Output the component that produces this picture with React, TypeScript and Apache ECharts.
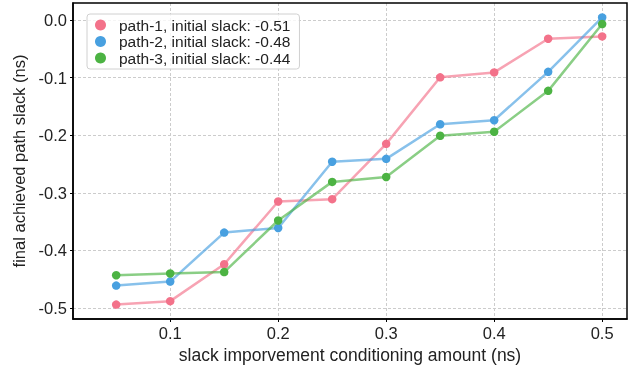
import React, { useEffect, useRef } from "react";
import * as echarts from "echarts";

const xValues = [0.05, 0.1, 0.15, 0.2, 0.25, 0.3, 0.35, 0.4, 0.45, 0.5];
const path1 = [-0.494, -0.488, -0.424, -0.315, -0.311, -0.215, -0.0995, -0.091, -0.0325, -0.0285];
const path2 = [-0.461, -0.454, -0.369, -0.361, -0.246, -0.241, -0.181, -0.174, -0.090, 0.0045];
const path3 = [-0.443, -0.440, -0.4375, -0.348, -0.281, -0.2725, -0.201, -0.194, -0.123, -0.007];
const seriesNames = [
  "path-1, initial slack: -0.51",
  "path-2, initial slack: -0.48",
  "path-3, initial slack: -0.44",
];
const colors = ["#f3728a", "#48a0e0", "#4cb343"];
const xTicks = [0.1, 0.2, 0.3, 0.4, 0.5];
const yTicks = [-0.5, -0.4, -0.3, -0.2, -0.1, 0.0];

export default function App() {
  const ref = useRef<HTMLDivElement>(null);
  useEffect(() => {
    if (!ref.current) return;
    const chart = echarts.init(ref.current, null, { renderer: "svg" });
    const font = "'Liberation Sans', Arial, sans-serif";
    const all = [path1, path2, path3];
    chart.setOption({
      animation: false,
      textStyle: { fontFamily: font },
      grid: {
        left: 73,
        right: 14,
        top: 3,
        bottom: 46,
        containLabel: false,
        outerBoundsMode: "none",
      },
      legend: {
        orient: "vertical",
        left: 87,
        top: 14,
        icon: "circle",
        itemWidth: 11,
        itemHeight: 11,
        itemGap: 0.5,
        padding: [3, 9, 3, 8],
        borderColor: "#d0d0d0",
        borderWidth: 1,
        borderRadius: 3,
        backgroundColor: "rgba(255,255,255,0.8)",
        textStyle: {
          fontSize: 15.5,
          lineHeight: 16,
          color: "#222",
          fontFamily: font,
          padding: [0, 0, 0, 8],
        },
        data: seriesNames,
      },
      xAxis: {
        type: "value",
        min: 0.01,
        max: 0.523,
        name: "slack imporvement conditioning amount (ns)",
        nameLocation: "middle",
        nameGap: 24,
        nameTextStyle: { fontSize: 17.5, color: "#222", fontFamily: font },
        axisLine: { show: true, onZero: false, lineStyle: { color: "#000", width: 1.5 } },
        axisTick: { show: true, length: 3, customValues: xTicks, lineStyle: { color: "#000" } },
        axisLabel: {
          customValues: xTicks,
          fontSize: 16.5,
          color: "#222",
          margin: 5,
          formatter: (v: number) => v.toFixed(1),
        },
        splitLine: { show: true, lineStyle: { color: "#cccccc", type: [3, 2], width: 1 } },
      },
      yAxis: {
        type: "value",
        min: -0.519,
        max: 0.0295,
        name: "final achieved path slack (ns)",
        nameLocation: "middle",
        nameGap: 42,
        nameTextStyle: { fontSize: 16.5, color: "#222", fontFamily: font },
        axisLine: { show: true, onZero: false, lineStyle: { color: "#000", width: 1.5 } },
        axisTick: { show: true, length: 3, customValues: yTicks, lineStyle: { color: "#000" } },
        axisLabel: {
          customValues: yTicks,
          fontSize: 16.5,
          color: "#222",
          margin: 6,
          formatter: (v: number) => (Math.abs(v) < 1e-9 ? "0.0" : v.toFixed(1)),
        },
        splitLine: { show: true, lineStyle: { color: "#cccccc", type: [3, 2], width: 1 } },
      },
      series: all.map((d, i) => ({
        name: seriesNames[i],
        type: "line",
        data: xValues.map((x, j) => [x, d[j]]),
        symbol: "circle",
        symbolSize: 8.5,
        itemStyle: { color: colors[i], opacity: 1 },
        lineStyle: { color: colors[i], width: 2.5, opacity: 0.65 },
        z: 3 + i,
      })),
      graphic: [
        {
          type: "rect",
          shape: { x: 73, y: 3, width: 554, height: 316 },
          style: { fill: "none", stroke: "#000", lineWidth: 1.5 },
          silent: true,
          z: 10,
        },
      ],
    });
    return () => chart.dispose();
  }, []);
  return (
    <div
      ref={ref}
      style={{ width: 641, height: 365, position: "fixed", left: 0, top: 0 }}
    />
  );
}
